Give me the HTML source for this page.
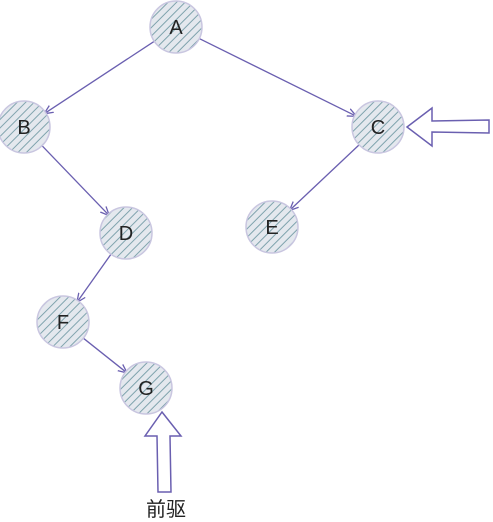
<!DOCTYPE html>
<html><head><meta charset="utf-8">
<style>
html,body{margin:0;padding:0;background:#fff;}
svg{display:block;}
text{font-family:"Liberation Sans","Noto Sans CJK SC",sans-serif;}
</style></head>
<body>
<svg id="chart" width="493" height="522" viewBox="0 0 493 522">
<defs>
<pattern id="hatch" patternUnits="userSpaceOnUse" width="6" height="6" patternTransform="rotate(45)">
<rect width="6" height="6" fill="#e4e8ee"/>
<line x1="0" y1="0" x2="0" y2="6" stroke="#7fa3ad" stroke-width="2"/>
</pattern>
<marker id="ah" markerWidth="10" markerHeight="10" refX="9" refY="5" orient="auto" markerUnits="userSpaceOnUse">
<path d="M0,1 L9,5 L0,9" fill="none" stroke="#6a5fb0" stroke-width="1.3"/>
</marker>
</defs>
<g id="edges"></g>
<g id="nodes"></g>
<path d="M407,127 L432,108 L432,121 L489,120 L489,133 L432,132 L432,146 Z" fill="none" stroke="#6a5fb0" stroke-width="1.5"/>
<path d="M162,412 L181,436 L170,436 L171,492 L158,492 L157,436 L145,436 Z" fill="none" stroke="#6a5fb0" stroke-width="1.5"/>
<text x="166" y="516" font-size="20" text-anchor="middle" fill="#222">前驱</text>
</svg>
<script>
const nodeLabels = ["A","B","C","D","E","F","G"];
const nodeX = [176,24,378,126,272,63,146];
const nodeY = [27,127,127,233,227,322,388];
const edgeFrom = [0,0,1,3,5,2];
const edgeTo = [1,2,3,5,6,4];
const R = 26;
const ns = "http://www.w3.org/2000/svg";
const eg = document.getElementById("edges");
const ng = document.getElementById("nodes");
for (let i = 0; i < edgeFrom.length; i++) {
  const a = edgeFrom[i], b = edgeTo[i];
  const dx = nodeX[b]-nodeX[a], dy = nodeY[b]-nodeY[a];
  const d = Math.hypot(dx, dy);
  const ux = dx/d, uy = dy/d;
  const l = document.createElementNS(ns, "line");
  l.setAttribute("x1", nodeX[a]+ux*R); l.setAttribute("y1", nodeY[a]+uy*R);
  l.setAttribute("x2", nodeX[b]-ux*(R-2)); l.setAttribute("y2", nodeY[b]-uy*(R-2));
  l.setAttribute("stroke", "#6a5fb0"); l.setAttribute("stroke-width", "1.3");
  l.setAttribute("marker-end", "url(#ah)");
  
  
  eg.appendChild(l);
}
for (let i = 0; i < nodeLabels.length; i++) {
  const g = document.createElementNS(ns, "g");
  
  
  const c = document.createElementNS(ns, "circle");
  c.setAttribute("cx", nodeX[i]); c.setAttribute("cy", nodeY[i]); c.setAttribute("r", R);
  c.setAttribute("fill", "url(#hatch)"); c.setAttribute("stroke", "#c9c6e0"); c.setAttribute("stroke-width", "1.5");
  g.appendChild(c);
  const t = document.createElementNS(ns, "text");
  t.setAttribute("x", nodeX[i]); t.setAttribute("y", nodeY[i]+7);
  t.setAttribute("text-anchor", "middle"); t.setAttribute("font-size", "20"); t.setAttribute("fill", "#222");
  t.textContent = nodeLabels[i];
  g.appendChild(t);
  ng.appendChild(g);
}
</script>
</body></html>
